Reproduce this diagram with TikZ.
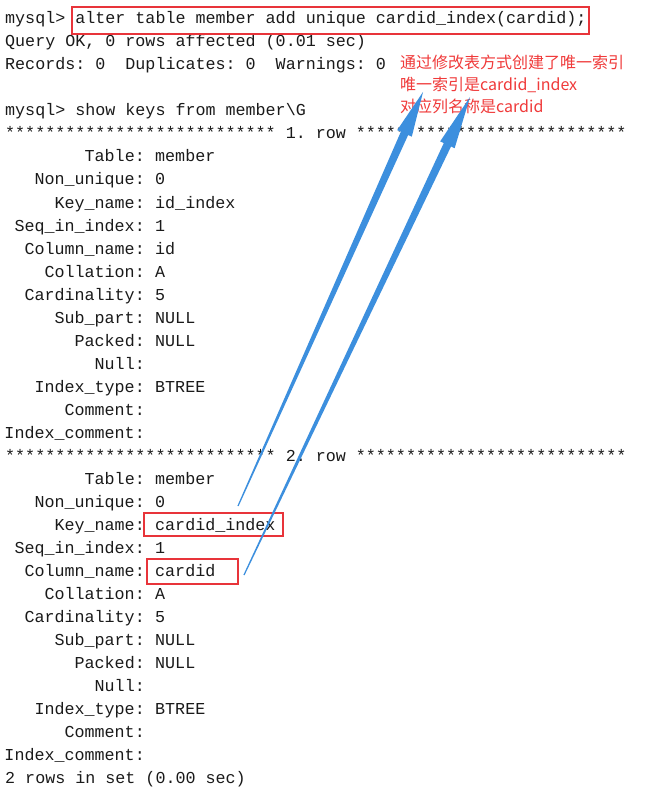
\documentclass[tikz,border=0pt]{standalone}
\usepackage{fontspec}
\setmonofont{Liberation Mono}
\newfontfamily\cjk{Noto Sans CJK SC}
\usetikzlibrary{calc, positioning}
\definecolor{ColorTerm}{HTML}{1A1A1A}
\definecolor{ColorBox}{HTML}{E8343A}
\definecolor{ColorNote}{HTML}{F03A3A}
\definecolor{ColorArrow}{HTML}{3C8FDE}

\begin{document}
\begin{tikzpicture}[x=1pt, y=-1pt,
term/.style={
	anchor=base west,
	inner sep=0pt,
	font=\ttfamily\fontsize{16.7}{20}\selectfont,
	text=ColorTerm},
field/.style={
	term,
	anchor=base east},
hilite/.style={
	draw=ColorBox,
	line width=2.4pt,
	inner sep=0pt,
	anchor=north west},
note/.style={
	anchor=base west,
	inner sep=0pt,
	font=\cjk\fontsize{16}{18}\selectfont,
	text=ColorNote},
pointer/.style={
	fill=ColorArrow,
	draw=none}]

\fill[white] (0,0) rectangle (648,794);
\useasboundingbox (0,0) rectangle (648,794);

%Terminal lines
\node[term] (l1) at (5,24) {mysql> alter table member add unique cardid\_index(cardid);};
\node[term] (l2) at (5,47) {Query OK, 0 rows affected (0.01 sec)};
\node[term] (l3) at (5,70) {Records: 0\ \ Duplicates: 0\ \ Warnings: 0};
\node[term] (l5) at (5,116) {mysql> show keys from member\textbackslash G};
\node[term] (s1) at (5,139) {*************************** 1. row ***************************};
\node[term] (s2) at (5,461) {*************************** 2. row ***************************};
\node[term] (l34) at (5,783) {2 rows in set (0.00 sec)};

\foreach \r/\off/\key/\col in {1/162/id\_index/id, 2/484/cardid\_index/cardid} {
	\foreach \i/\name/\val in {0/Table/member, 1/Non\_unique/0, 2/Key\_name/\key,
		3/Seq\_in\_index/1, 4/Column\_name/\col, 5/Collation/A, 6/Cardinality/5,
		7/Sub\_part/NULL, 8/Packed/NULL, 9/Null/{}, 10/Index\_type/BTREE,
		11/Comment/{}, 12/Index\_comment/{}} {
		\node[field] (f\r\i) at (145,\off+23*\i) {\name:};
		\node[term] (v\r\i) at (155,\off+23*\i) {\val};
	}
}

%Boxes
\node[hilite, minimum width=517pt, minimum height=27pt] (b1) at (71,6) {};
\node[hilite, minimum width=139pt, minimum height=23pt] (b2) at (143,512) {};
\node[hilite, minimum width=91pt, minimum height=25pt] (b3) at (146,558) {};

%Note
\node[note] (n1) at (400,69) {通过修改表方式创建了唯一索引};
\node[note] (n2) at (400,91) {唯一索引是cardid\_index};
\node[note] (n3) at (400,113) {对应列名称是cardid};

%Arrows
\coordinate (t1) at (238,506);
\coordinate (h1) at (423,92);
\coordinate (t2) at (244,575);
\coordinate (h2) at (470,97);
\foreach \i in {1,2} {
	\coordinate (m\i) at ($(t\i)!0.9!(h\i)$);
	\fill[pointer] ($(t\i)!0.6pt!90:(h\i)$) -- ($(m\i)!4pt!90:(h\i)$)
		-- ($(m\i)!8pt!90:(h\i)$) -- (h\i) -- ($(m\i)!8pt!-90:(h\i)$)
		-- ($(m\i)!4pt!-90:(h\i)$) -- ($(t\i)!0.6pt!-90:(h\i)$) -- cycle;
}
\end{tikzpicture}
\end{document}
